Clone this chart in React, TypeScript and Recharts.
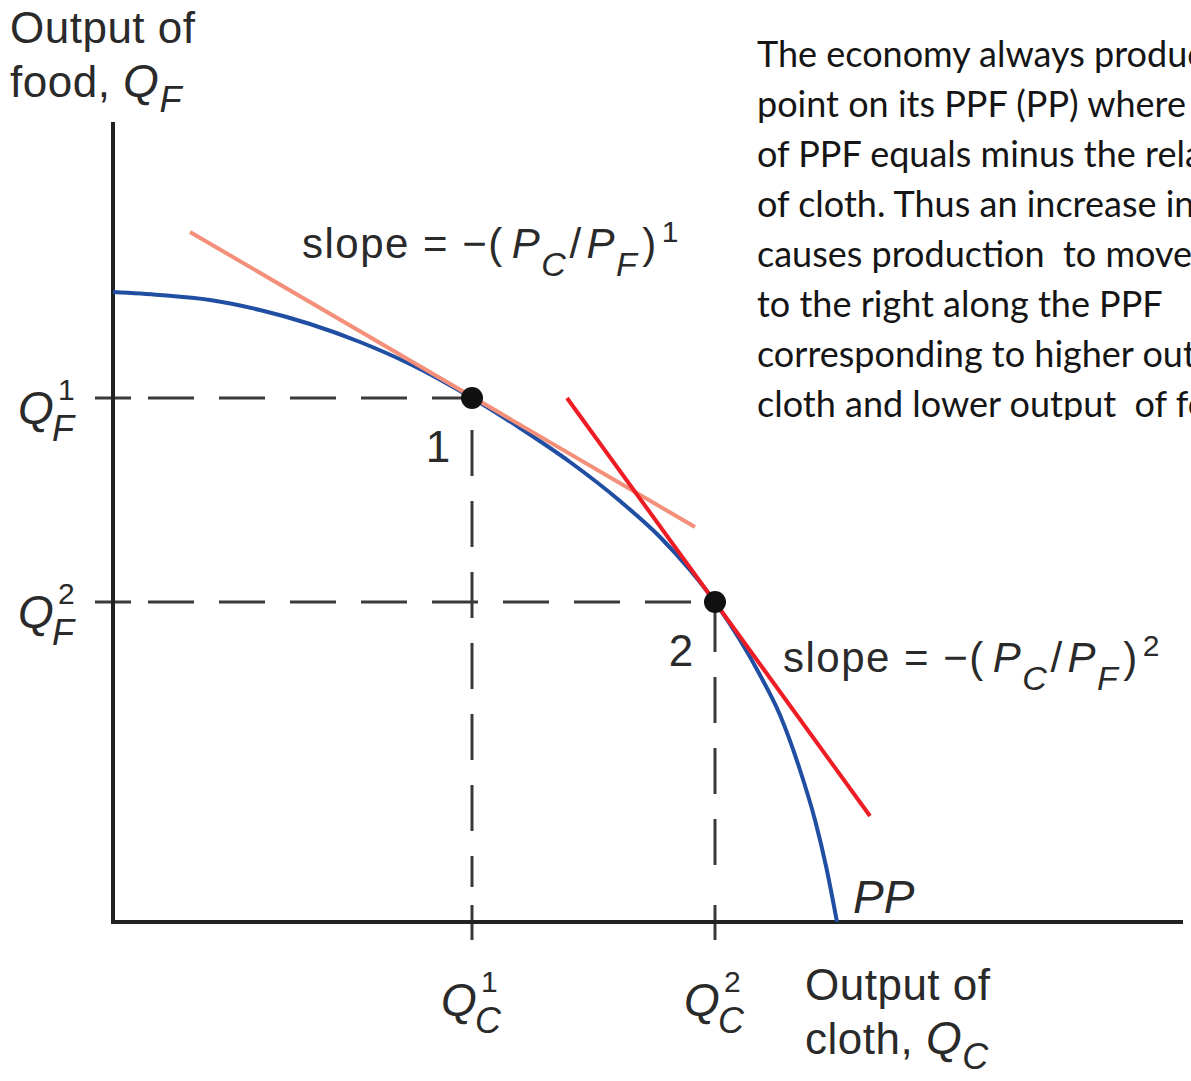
import React from "react";
import { ComposedChart, Line, Scatter, XAxis, YAxis, ReferenceLine, ReferenceDot } from "recharts";

const W = 1191;
const H = 1081;
const INK = "#2a2a2a";
const SANS = "'Liberation Sans', Arial, Helvetica, sans-serif";

// production possibility frontier PP: output of cloth (x) against output of food (y)
const ppCloth = [0, 0.47, 0.97, 1.47, 1.97, 2.47, 2.97, 3.59, 4.07, 4.57, 5.07, 5.47, 5.77, 6.02, 6.27, 6.47, 6.67, 6.87, 7.02, 7.13, 7.24];
const ppFood = [6.3, 6.27, 6.22, 6.12, 5.98, 5.8, 5.58, 5.24, 4.94, 4.6, 4.21, 3.85, 3.52, 3.2, 2.82, 2.47, 2.07, 1.52, 1.02, 0.56, 0];

// production points 1 and 2 on PP
const pointCloth = [3.59, 6.02];
const pointFood = [5.24, 3.2];
const pointNames = ["1", "2"];

// relative price lines touching PP at points 1 and 2
const price1Cloth = [0.77, 5.82];
const price1Food = [6.9, 3.95];
const price2Cloth = [4.54, 7.57];
const price2Food = [5.24, 1.06];

// axis lengths
const clothAxisEnd = 10.7;
const foodAxisEnd = 8.0;

const noteLines = [
  "The economy always produces at the",
  "point on its PPF (PP) where the slope",
  "of PPF equals minus the relative price",
  "of cloth. Thus an increase in PC/PF",
  "causes production  to move down and",
  "to the right along the PPF",
  "corresponding to higher output of",
  "cloth and lower output  of food.",
];

const ppData = ppCloth.map((x, i) => ({ x, y: ppFood[i] }));
const price1Data = price1Cloth.map((x, i) => ({ x, y: price1Food[i] }));
const price2Data = price2Cloth.map((x, i) => ({ x, y: price2Food[i] }));
const pointData = pointCloth.map((x, i) => ({ x, y: pointFood[i], name: pointNames[i] }));

function QMark({ x, y, sub, sup }: { x: number; y: number; sub: string; sup?: string }) {
  return (
    <g fill={INK} fontFamily={SANS}>
      <text x={x} y={y} fontSize={46} fontStyle="italic">Q</text>
      {sup && <text x={x + 40} y={y - 24} fontSize={30}>{sup}</text>}
      <text x={x + 34} y={y + 17} fontSize={36} fontStyle="italic">{sub}</text>
    </g>
  );
}

function SlopeLabel({ x, y, n }: { x: number; y: number; n: string }) {
  return (
    <text x={x} y={y} fontSize={42} letterSpacing={1.5} fill={INK} fontFamily={SANS}>
      slope = −(
      <tspan fontStyle="italic" dx={8}>P</tspan>
      <tspan fontStyle="italic" fontSize={34} dy={18}>C</tspan>
      <tspan dy={-18} dx={2}>/</tspan>
      <tspan fontStyle="italic" dx={4}>P</tspan>
      <tspan fontStyle="italic" fontSize={34} dy={18}>F</tspan>
      <tspan dy={-18} dx={4}>)</tspan>
      <tspan fontSize={30} dy={-16} dx={4}>{n}</tspan>
    </text>
  );
}

function AxisTitle({ x, y, word, sub }: { x: number; y: number; word: string; sub: string }) {
  return (
    <text x={x} y={y} fontSize={44} letterSpacing={0.5} fill={INK} fontFamily={SANS}>
      <tspan x={x}>Output of</tspan>
      <tspan x={x} dy={54}>{word}, </tspan>
      <tspan fontStyle="italic" fontSize={46}>Q</tspan>
      <tspan fontStyle="italic" fontSize={36} dy={15}>{sub}</tspan>
    </text>
  );
}

export default function App() {
  return (
    <div style={{ position: "absolute", left: 0, top: 0, width: W, height: H, overflow: "hidden", background: "#fff" }}>
      <ComposedChart width={W} height={H} margin={{ top: 0, right: 0, bottom: 0, left: 0 }}>
        <XAxis type="number" dataKey="x" domain={[-1.13, 10.78]} hide allowDataOverflow />
        <YAxis type="number" dataKey="y" domain={[-1.59, 9.22]} hide allowDataOverflow />

        {/* dashed guides from the production points to the axes */}
        {pointData.map((p, i) => (
          <ReferenceLine
            key={`h${i}`}
            segment={[{ x: 0.35, y: p.y }, { x: p.x, y: p.y }]}
            stroke="#3a3a3a"
            strokeWidth={3}
            strokeDasharray="46 25"
            ifOverflow="visible"
          />
        ))}
        {pointData.map((p, i) => (
          <ReferenceLine
            key={`v${i}`}
            segment={[{ x: p.x, y: p.y - [0.32, 0.04][i] }, { x: p.x, y: [0.35, 0.32][i] }]}
            stroke="#3a3a3a"
            strokeWidth={3}
            strokeDasharray="46 25"
            ifOverflow="visible"
          />
        ))}
        {/* tick marks */}
        {pointData.map((p, i) => (
          <ReferenceLine key={`ty${i}`} segment={[{ x: -0.18, y: p.y }, { x: 0.18, y: p.y }]} stroke="#3a3a3a" strokeWidth={3} ifOverflow="visible" />
        ))}
        {pointData.map((p, i) => (
          <ReferenceLine key={`tx${i}`} segment={[{ x: p.x, y: 0.17 }, { x: p.x, y: -0.18 }]} stroke="#3a3a3a" strokeWidth={3} ifOverflow="visible" />
        ))}

        {/* axes */}
        <ReferenceLine segment={[{ x: 0, y: -0.02 }, { x: 0, y: foodAxisEnd }]} stroke="#222" strokeWidth={4} ifOverflow="visible" />
        <ReferenceLine segment={[{ x: -0.02, y: 0 }, { x: clothAxisEnd, y: 0 }]} stroke="#222" strokeWidth={4} ifOverflow="visible" />

        <Line data={ppData} dataKey="y" type="monotone" stroke="#1f4ea3" strokeWidth={4} dot={false} activeDot={false} isAnimationActive={false} />
        <Line data={price1Data} dataKey="y" type="linear" stroke="#f4907a" strokeWidth={4} dot={false} activeDot={false} isAnimationActive={false} />
        <Line data={price2Data} dataKey="y" type="linear" stroke="#ee1c24" strokeWidth={4} dot={false} activeDot={false} isAnimationActive={false} />

        <Scatter
          data={pointData}
          isAnimationActive={false}
          shape={(p: any) => (
            <g>
              <circle cx={p.cx} cy={p.cy} r={11} fill="#111" />
              <text x={p.cx - 34} y={p.cy + 64} fontSize={44} textAnchor="middle" fill={INK} fontFamily={SANS}>
                {p.payload.name}
              </text>
            </g>
          )}
        />

        {/* tick labels */}
        {pointData.map((p, i) => (
          <ReferenceDot
            key={`lf${i}`}
            x={0}
            y={p.y}
            r={0}
            ifOverflow="visible"
            shape={(d: any) => <QMark x={d.cx - 95} y={d.cy + 26} sub="F" sup={p.name} />}
          />
        ))}
        {pointData.map((p, i) => (
          <ReferenceDot
            key={`lc${i}`}
            x={p.x}
            y={0}
            r={0}
            ifOverflow="visible"
            shape={(d: any) => <QMark x={d.cx - 31} y={d.cy + 94} sub="C" sup={p.name} />}
          />
        ))}

        {/* axis titles and annotations */}
        <ReferenceDot x={-1.03} y={8.79} r={0} ifOverflow="visible" shape={(d: any) => <AxisTitle x={d.cx} y={d.cy} word="food" sub="F" />} />
        <ReferenceDot x={6.92} y={-0.78} r={0} ifOverflow="visible" shape={(d: any) => <AxisTitle x={d.cx} y={d.cy} word="cloth" sub="C" />} />
        <ReferenceDot x={1.89} y={6.64} r={0} ifOverflow="visible" shape={(d: any) => <SlopeLabel x={d.cx} y={d.cy} n="1" />} />
        <ReferenceDot x={6.7} y={2.5} r={0} ifOverflow="visible" shape={(d: any) => <SlopeLabel x={d.cx} y={d.cy} n="2" />} />
        <ReferenceDot
          x={7.4}
          y={0.09}
          r={0}
          ifOverflow="visible"
          shape={(d: any) => (
            <text x={d.cx} y={d.cy} fontSize={46} fontStyle="italic" fill={INK} fontFamily={SANS}>PP</text>
          )}
        />
      </ComposedChart>

      <div
        style={{
          position: "absolute",
          left: 757,
          top: 28,
          width: W - 757,
          height: 392,
          overflow: "hidden",
          fontFamily: "Lato, 'Open Sans', sans-serif",
          fontSize: 36,
          lineHeight: "50px",
          color: "#151515",
          whiteSpace: "pre",
        }}
      >
        {noteLines.map((t, i) => (
          <div key={i}>{t}</div>
        ))}
      </div>
    </div>
  );
}
